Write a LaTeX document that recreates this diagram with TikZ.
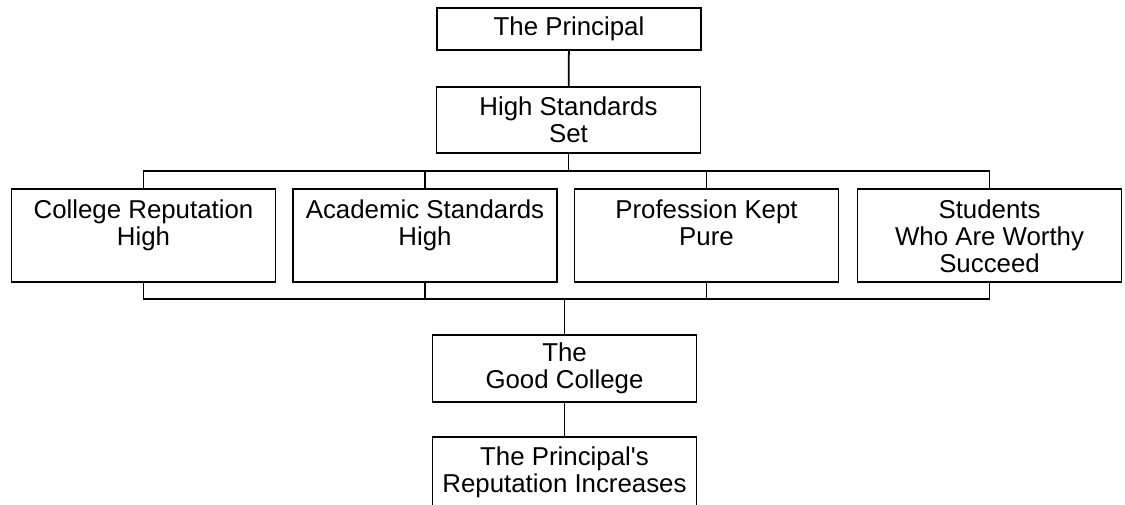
\documentclass[tikz,border=0pt]{standalone}
\usepackage{fontspec}
\setmainfont{Liberation Sans}
\tikzset{
  box/.style={draw, line width=1pt, minimum width=5.28cm, align=center, inner sep=0pt},
  rowbox/.style={box, minimum height=1.86cm},
  wire/.style={line width=1pt}
}
\newcommand{\rowtext}[1]{\parbox[c][1.42cm][t]{5.2cm}{\centering #1}}
\begin{document}
\begin{tikzpicture}[font=\fontsize{14.7}{15.4}\selectfont]
      \useasboundingbox (0,0) rectangle (22.5,-10.08);
      \node[box, minimum height=0.84cm] (principal) at (11.38,-0.58) {The Principal};
      \node[box, minimum height=1.32cm] (standards) at (11.37,-2.40) {High Standards\\Set};
      \node[rowbox] (college) at (2.87,-4.71) {\rowtext{College Reputation\\High}};
      \node[rowbox] (academic) at (8.50,-4.71) {\rowtext{Academic Standards\\High}};
      \node[rowbox] (profession) at (14.13,-4.71) {\rowtext{Profession Kept\\Pure}};
      \node[rowbox] (students) at (19.79,-4.71) {\rowtext{Students\\Who Are Worthy\\Succeed}};
      \node[box, minimum height=1.34cm] (good) at (11.29,-7.37) {The\\Good College};
      \node[box, minimum height=1.40cm] (reputation) at (11.29,-9.44) {The Principal\textquotesingle s\\Reputation Increases};
      \coordinate (top bus) at (0,-3.42);
      \coordinate (bottom bus) at (0,-5.98);
      \draw[wire] (principal) -- (standards);
      \draw[wire] (standards.south) -- (standards.south |- top bus);
      \draw[wire] (college.north) |- (students.north |- top bus) -- (students.north);
      \draw[wire] (academic.north) -- (academic.north |- top bus);
      \draw[wire] (profession.north) -- (profession.north |- top bus);
      \draw[wire] (college.south) |- (students.south |- bottom bus) -- (students.south);
      \draw[wire] (academic.south) -- (academic.south |- bottom bus);
      \draw[wire] (profession.south) -- (profession.south |- bottom bus);
      \draw[wire] (good.north) -- (good.north |- bottom bus);
      \draw[wire] (good) -- (reputation);
\end{tikzpicture}
\end{document}
